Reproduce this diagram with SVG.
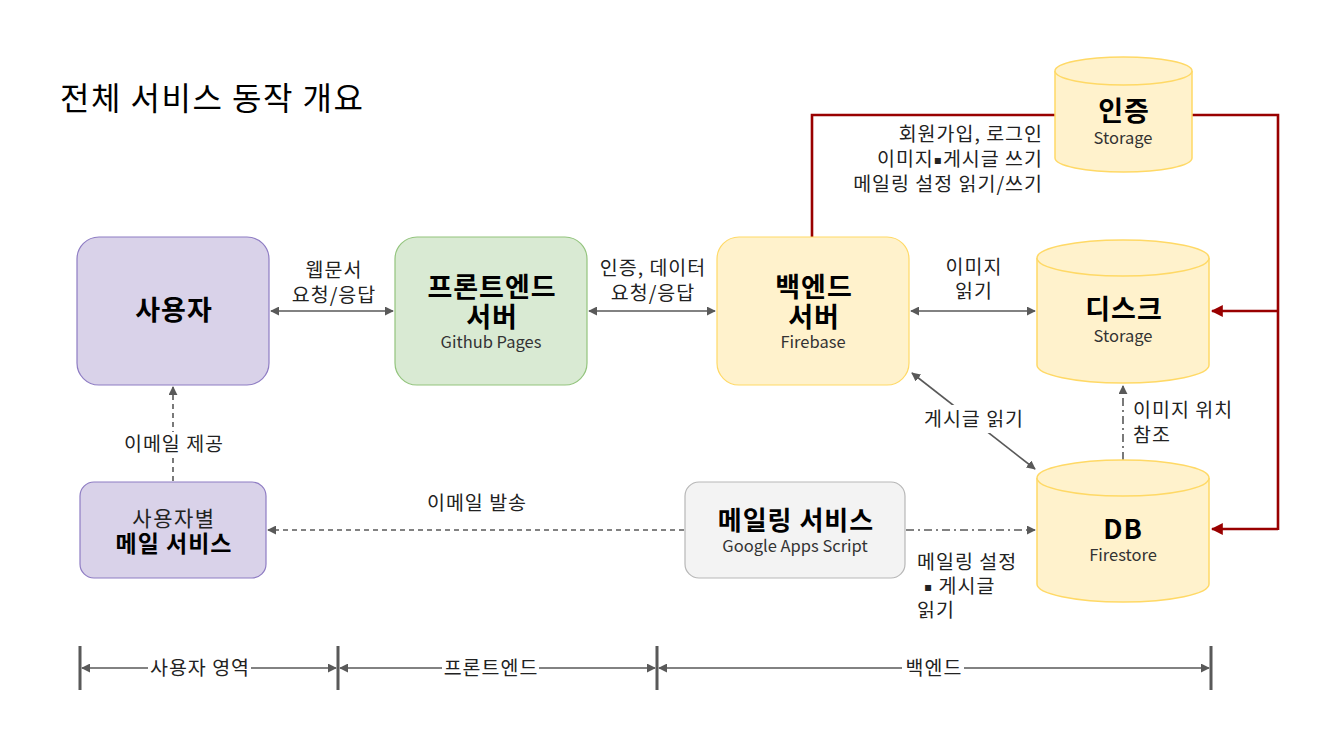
<svg xmlns="http://www.w3.org/2000/svg" width="1333" height="748" viewBox="0 0 1333 748">
<style>
text{font-family:"Noto Sans CJK KR","Noto Sans",sans-serif;fill:#000}
.t{font-size:19.5px;fill:#222;letter-spacing:1px}
.b{font-size:27px;font-weight:bold;letter-spacing:1px}
.s{font-size:16.5px;fill:#333}
.c{stroke:#595959;stroke-width:1.6;fill:none}
.r{stroke:#990000;stroke-width:2.6;fill:none}
.cyl{fill:#fff2cc;stroke:#ffd966;stroke-width:1.5}
.sq{font-family:"DejaVu Sans",sans-serif;font-size:12px}
</style>
<defs>
<marker id="a" viewBox="0 0 10 10" refX="9" refY="5" markerWidth="9" markerHeight="9" markerUnits="userSpaceOnUse" orient="auto-start-reverse"><path d="M0,0L10,5L0,10z" fill="#595959"/></marker>
<marker id="ar" viewBox="0 0 10 10" refX="9" refY="5" markerWidth="12" markerHeight="12" markerUnits="userSpaceOnUse" orient="auto"><path d="M0,0L10,5L0,10z" fill="#990000"/></marker>
</defs>
<rect width="1333" height="748" fill="#fff"/>
<text x="60" y="110" style="font-size:32px;letter-spacing:1.5px">전체 서비스 동작 개요</text>

<g id="connectors">
<path class="r" d="M812,237V115H1055"/>
<path class="r" d="M1192,115H1278V530"/>
<path class="r" d="M1278,311H1212" marker-end="url(#ar)"/>
<path class="r" d="M1278,529H1212" marker-end="url(#ar)"/>
<path class="c" d="M271,311H393" marker-start="url(#a)" marker-end="url(#a)"/>
<path class="c" d="M589,311H715" marker-start="url(#a)" marker-end="url(#a)"/>
<path class="c" d="M911,311H1035" marker-start="url(#a)" marker-end="url(#a)"/>
<path class="c" d="M912,373L1035,469" marker-start="url(#a)" marker-end="url(#a)"/>
<path class="c" d="M1123,460V386" stroke-dasharray="8,4,2,4" marker-end="url(#a)"/>
<path class="c" d="M906,530H1035" stroke-dasharray="8,4,2,4" marker-end="url(#a)"/>
<path class="c" d="M684,530H268" stroke-dasharray="5,4" marker-end="url(#a)"/>
<path class="c" d="M173,481V387" stroke-dasharray="5,4" marker-end="url(#a)"/>
<text class="t" x="334" y="277" text-anchor="middle">웹문서</text>
<text class="t" x="334" y="302" text-anchor="middle">요청/응답</text>
<text class="t" x="653" y="275" text-anchor="middle">인증, 데이터</text>
<text class="t" x="653" y="300" text-anchor="middle">요청/응답</text>
<text class="t" x="974" y="274" text-anchor="middle">이미지</text>
<text class="t" x="974" y="298" text-anchor="middle">읽기</text>
<rect x="918" y="405" width="112" height="28" fill="#fff"/>
<text class="t" x="974" y="426" text-anchor="middle">게시글 읽기</text>
<text class="t" x="1133" y="417">이미지 위치</text>
<text class="t" x="1133" y="442">참조</text>
<text class="t" x="1043" y="141" text-anchor="end">회원가입, 로그인</text>
<text class="t" x="1043" y="166" text-anchor="end">이미지<tspan class="sq" dy="-2">▪</tspan><tspan dy="2">게시글 쓰기</tspan></text>
<text class="t" x="1043" y="191" text-anchor="end">메일링 설정 읽기/쓰기</text>
<rect x="116" y="432" width="114" height="26" fill="#fff"/>
<text class="t" x="174" y="451" text-anchor="middle">이메일 제공</text>
<text class="t" x="477" y="510" text-anchor="middle">이메일 발송</text>
<text class="t" x="917" y="569">메일링 설정</text>
<text class="t" x="924" y="593"><tspan class="sq" dy="-2">▪</tspan><tspan dy="2"> 게시글</tspan></text>
<text class="t" x="917" y="617">읽기</text>
</g>

<g id="user">
<rect x="77" y="237" width="192" height="148" rx="22" fill="#d9d2e9" stroke="#8e7cc3" stroke-width="1.2"/>
<text class="b" x="174" y="320" text-anchor="middle">사용자</text>
</g>
<g id="frontend">
<rect x="395" y="237" width="192" height="148" rx="22" fill="#d9ead3" stroke="#93c47d" stroke-width="1.2"/>
<text class="b" x="492" y="297" text-anchor="middle">프론트엔드</text>
<text class="b" x="492" y="327" text-anchor="middle">서버</text>
<text class="s" x="491" y="348" text-anchor="middle">Github Pages</text>
</g>
<g id="backend">
<rect x="717" y="237" width="192" height="148" rx="22" fill="#fff2cc" stroke="#ffd966" stroke-width="1.2"/>
<text class="b" x="814" y="297" text-anchor="middle">백엔드</text>
<text class="b" x="814" y="327" text-anchor="middle">서버</text>
<text class="s" x="813" y="348" text-anchor="middle">Firebase</text>
</g>
<g id="auth">
<path class="cyl" d="M1055,71V158A68.5,14 0 0 0 1192,158V71A68.5,14 0 0 0 1055,71z"/>
<path class="cyl" d="M1055,71A68.5,14 0 0 0 1192,71" fill="none"/>
<text class="b" x="1124" y="121" text-anchor="middle">인증</text>
<text class="s" x="1123" y="144" text-anchor="middle">Storage</text>
</g>
<g id="disk">
<path class="cyl" d="M1037,258V365A86,18 0 0 0 1209,365V258A86,18 0 0 0 1037,258z"/>
<path class="cyl" d="M1037,258A86,18 0 0 0 1209,258" fill="none"/>
<text class="b" x="1124" y="319" text-anchor="middle">디스크</text>
<text class="s" x="1123" y="342" text-anchor="middle">Storage</text>
</g>
<g id="db">
<path class="cyl" d="M1037,478V584A86,18 0 0 0 1209,584V478A86,18 0 0 0 1037,478z"/>
<path class="cyl" d="M1037,478A86,18 0 0 0 1209,478" fill="none"/>
<text class="b" x="1123" y="539" text-anchor="middle">DB</text>
<text class="s" x="1123" y="561" text-anchor="middle">Firestore</text>
</g>
<g id="usermail">
<rect x="80" y="482" width="186" height="96" rx="14" fill="#d9d2e9" stroke="#8e7cc3" stroke-width="1.2"/>
<text x="174" y="526" text-anchor="middle" style="font-size:21px;fill:#222;letter-spacing:1.5px">사용자별</text>
<text x="174" y="552" text-anchor="middle" style="font-size:23px;font-weight:bold;letter-spacing:1px">메일 서비스</text>
</g>
<g id="mailing">
<rect x="685" y="482" width="220" height="96" rx="14" fill="#f3f3f3" stroke="#b7b7b7" stroke-width="1.2"/>
<text x="796" y="530" text-anchor="middle" style="font-size:26px;font-weight:bold;letter-spacing:1px">메일링 서비스</text>
<text class="s" x="795" y="552" text-anchor="middle">Google Apps Script</text>
</g>
<g id="timeline">
<path d="M80,646V690M338,646V690M657,646V690M1211,646V690" stroke="#595959" stroke-width="3"/>
<path class="c" d="M82,668H336" marker-start="url(#a)" marker-end="url(#a)"/>
<path class="c" d="M340,668H655" marker-start="url(#a)" marker-end="url(#a)"/>
<path class="c" d="M659,668H1209" marker-start="url(#a)" marker-end="url(#a)"/>
<rect x="148" y="656" width="103" height="24" fill="#fff"/>
<text class="t" x="200" y="675" text-anchor="middle">사용자 영역</text>
<rect x="442" y="656" width="97" height="24" fill="#fff"/>
<text class="t" x="491" y="675" text-anchor="middle">프론트엔드</text>
<rect x="902" y="656" width="62" height="24" fill="#fff"/>
<text class="t" x="934" y="675" text-anchor="middle">백엔드</text>
</g>
</svg>
